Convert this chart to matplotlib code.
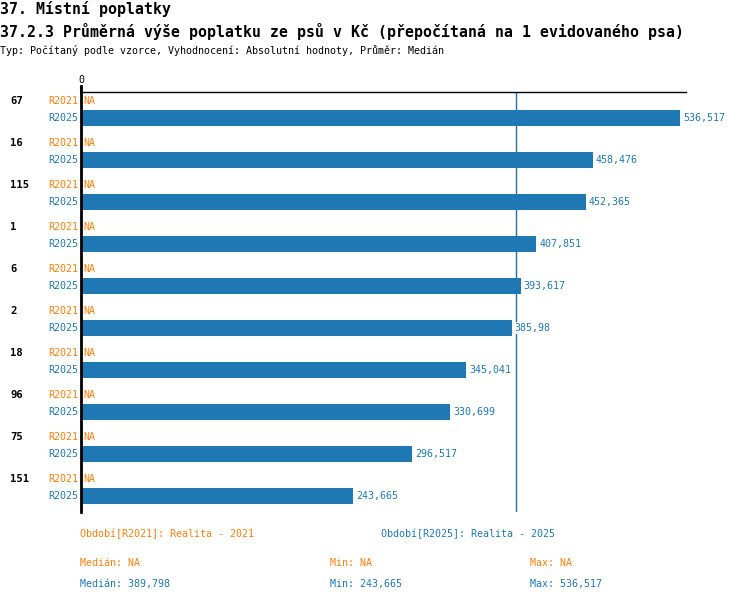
import numpy as np
import matplotlib
matplotlib.use("Agg")
import matplotlib.pyplot as plt
import matplotlib.transforms as mtransforms

groups = ["67", "16", "115", "1", "6", "2", "18", "96", "75", "151"]
r2021 = [None] * 10
r2025 = [536.517, 458.476, 452.365, 407.851, 393.617, 385.98, 345.041, 330.699, 296.517, 243.665]
period_labels = ["R2021", "R2025"]
period_names = ["Období[R2021]: Realita - 2021", "Období[R2025]: Realita - 2025"]

ORANGE = "#ff7f0e"
BLUE = "#1f77b4"
FONT = "DejaVu Sans Mono"
plt.rcParams['font.family'] = [FONT, 'DejaVu Sans']

W, H = 750, 602
fig = plt.figure(figsize=(W / 100, H / 100), dpi=100)

def fx(px):
    return px / W

def fy(py):
    return 1 - py / H

def fmt(v):
    return f"{v:g}".replace('.', ',')

# titles
fig.text(fx(0), fy(9), "37. Místní poplatky", fontsize=10.7, fontweight='bold', va='center', ha='left')
fig.text(fx(0), fy(31), "37.2.3 Průměrná výše poplatku ze psů v Kč (přepočítaná na 1 evidovaného psa)",
         fontsize=10.7, fontweight='bold', va='center', ha='left')
fig.text(fx(0), fy(51), "Typ: Počítaný podle vzorce, Vyhodnocení: Absolutní hodnoty, Průměr: Medián",
         fontsize=7.2, va='center', ha='left')

ax_left, ax_right, ax_top, ax_bot = 81, 686, 92, 512
ax = fig.add_axes([fx(ax_left), fy(ax_bot), fx(ax_right - ax_left), (ax_bot - ax_top) / H])

xmax = 541.8
ax.set_xlim(0, xmax)
ax.set_ylim(len(groups), 0)

off21, off25, bh = 9 / 42, 26 / 42, 16 / 42
ypos = np.arange(len(groups))

vals = np.array(r2025)
ax.barh(ypos + off25, vals, height=bh, color=BLUE, zorder=2)

med = float(np.median(vals))
ax.axvline(med, color="#2c6b9c", lw=1, zorder=1)

trans_lbl = mtransforms.blended_transform_factory(ax.transAxes, ax.transData)
for i, g in enumerate(groups):
    ax.text(-(81 - 10) / 605, i + off21, g, transform=trans_lbl, fontsize=7.6, fontweight='bold',
            ha='left', va='center', color='black')
    ax.text(-3 / 605, i + off21, period_labels[0], transform=trans_lbl, fontsize=7.2,
            ha='right', va='center', color=ORANGE)
    ax.text(-3 / 605, i + off25, period_labels[1], transform=trans_lbl, fontsize=7.2,
            ha='right', va='center', color=BLUE)
    if r2021[i] is None:
        ax.text(2 / 605, i + off21, "NA", transform=trans_lbl, fontsize=7.2,
                ha='left', va='center', color=ORANGE)
    v = r2025[i]
    ax.annotate(fmt(v), xy=(v, i + off25), xytext=(2, 0), textcoords='offset points',
                fontsize=7.2, ha='left', va='center', color=BLUE, zorder=3,
                bbox=dict(facecolor='white', edgecolor='none', pad=0.5))

for s in ['right', 'bottom']:
    ax.spines[s].set_visible(False)
ax.spines['top'].set_linewidth(1)
ax.spines['left'].set_linewidth(2)
ax.set_yticks([])
ax.set_xticks([0])
ax.xaxis.tick_top()
ax.tick_params(axis='x', length=4, width=1.5, labelsize=7.2, pad=1)
ax.set_xticklabels(["0"])

# extend left axis line upward slightly
fig.add_artist(plt.Line2D([fx(80.5), fx(80.5)], [fy(86), fy(ax_top)], color='black', lw=2))

# footer
fig.text(fx(80), fy(534), period_names[0], fontsize=7.2, color=ORANGE, va='center', ha='left')
fig.text(fx(381), fy(534), period_names[1], fontsize=7.2, color=BLUE, va='center', ha='left')

v21 = [v for v in r2021 if v is not None]
def stat(arr, f):
    return fmt(f(arr)) if len(arr) else "NA"

fig.text(fx(80), fy(563), "Medián: " + stat(v21, np.median), fontsize=7.2, color=ORANGE, va='center')
fig.text(fx(330), fy(563), "Min: " + stat(v21, np.min), fontsize=7.2, color=ORANGE, va='center')
fig.text(fx(530), fy(563), "Max: " + stat(v21, np.max), fontsize=7.2, color=ORANGE, va='center')
fig.text(fx(80), fy(584), "Medián: " + fmt(round(med, 3)), fontsize=7.2, color=BLUE, va='center')
fig.text(fx(330), fy(584), "Min: " + fmt(vals.min()), fontsize=7.2, color=BLUE, va='center')
fig.text(fx(530), fy(584), "Max: " + fmt(vals.max()), fontsize=7.2, color=BLUE, va='center')

fig.savefig("out.png", dpi=100)
